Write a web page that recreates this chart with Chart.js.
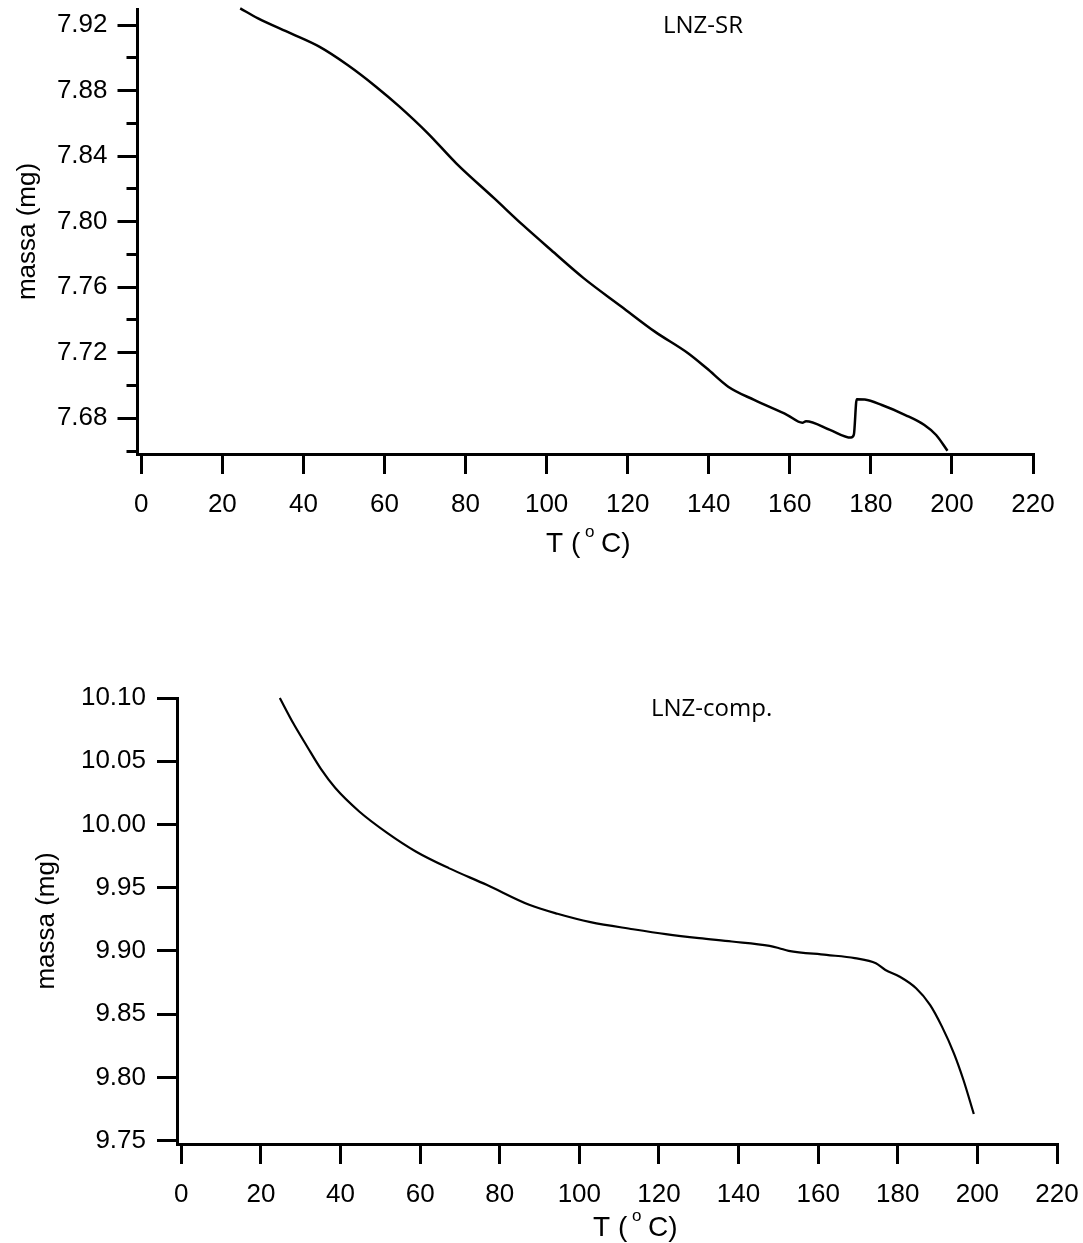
<!DOCTYPE html>
<html><head><meta charset="utf-8">
<script src="https://cdn.jsdelivr.net/npm/chart.js@4"></script>
<style>
html,body{margin:0;padding:0;background:#fff;}
#wrap{position:relative;width:1083px;height:1243px;background:#fff;}
canvas{position:absolute;left:0;}
</style></head><body>
<div id="wrap">
<canvas id="c1" width="1083" height="600" style="top:0px"></canvas>
<canvas id="c2" width="1083" height="643" style="top:600px"></canvas>
</div>
<script>
// ---- data ----
const srTemp = [24.4, 28.8, 36.9, 43.9, 50.9, 57.9, 63.7, 70.7, 77.7, 87.1, 94.1, 101.1, 109.2, 118.5, 126.7, 134.9, 139.5, 144.8, 151.2, 159.4, 163.1, 164.0, 169.9, 175.1, 175.8, 176.5, 178.5, 182.7, 188.5, 193.2, 196.1, 198.9];
const srMass = [7.9302, 7.9241, 7.9149, 7.9068, 7.8956, 7.8824, 7.8702, 7.8539, 7.8356, 7.8142, 7.7980, 7.7827, 7.7654, 7.7481, 7.7329, 7.7197, 7.7105, 7.6993, 7.6912, 7.6820, 7.6773, 7.6782, 7.6729, 7.6682, 7.6700, 7.6916, 7.6914, 7.6881, 7.6820, 7.6759, 7.6698, 7.6602];

const compTemp = [24.75, 28.1, 31.6, 35.2, 38.7, 44.7, 51.8, 58.9, 67.2, 76.7, 87.4, 94.5, 102.8, 113.5, 121.7, 130.1, 138.3, 147.8, 150.2, 152.6, 162.1, 169.2, 174.5, 176.9, 180.4, 184.6, 188.1, 191.1, 194.1, 196.5, 199.1];
const compMass = [10.100, 10.0802, 10.0617, 10.0433, 10.0288, 10.0103, 9.9932, 9.9787, 9.9655, 9.9523, 9.9365, 9.9294, 9.9228, 9.9172, 9.9133, 9.9101, 9.9075, 9.9040, 9.9022, 9.9001, 9.8969, 9.8943, 9.8903, 9.8850, 9.8798, 9.8705, 9.8574, 9.8402, 9.8191, 9.7980, 9.7711];

const xTicks = [0, 20, 40, 60, 80, 100, 120, 140, 160, 180, 200, 220];
const srYTicks = [7.68, 7.72, 7.76, 7.80, 7.84, 7.88, 7.92];
const srYMinor = [7.66, 7.70, 7.74, 7.78, 7.82, 7.86, 7.90];
const compYTicks = [9.75, 9.80, 9.85, 9.90, 9.95, 10.00, 10.05, 10.10];

const srLabel = 'LNZ-SR';
const compLabel = 'LNZ-comp.';
const yTitle = 'massa (mg)';
const xTitleParts = ['T (', 'o', 'C)'];

// ---- drawing helpers ----
const TICK_FONT = {family: '"Liberation Sans", Arial, sans-serif', size: 26};

const extras = {
  id: 'extras',
  afterDraw(chart, args, o) {
    const ctx = chart.ctx, ca = chart.chartArea;
    const xs = chart.scales.x, ys = chart.scales.y;
    ctx.save();
    // minor y ticks
    if (o.minor) {
      ctx.strokeStyle = '#000';
      ctx.lineWidth = 3;
      o.minor.forEach(v => {
        const py = Math.round(ys.getPixelForValue(v) - 1.5) + 1.5;
        ctx.beginPath();
        ctx.moveTo(ca.left - 11, py);
        ctx.lineTo(ca.left - 1.5, py);
        ctx.stroke();
      });
    }
    ctx.fillStyle = '#000';
    ctx.textAlign = 'left';
    ctx.textBaseline = 'alphabetic';
    // annotation label
    ctx.font = '24px "Open Sans", sans-serif';
    ctx.fillText(o.label, xs.getPixelForValue(o.labelX), ys.getPixelForValue(o.labelY));
    // x title with superscript o
    const x0 = o.titleX, by = ca.bottom + o.titleDy;
    ctx.font = '28px "Liberation Sans", Arial, sans-serif';
    ctx.fillText(xTitleParts[0], x0, by);
    ctx.font = '17px "Liberation Sans", Arial, sans-serif';
    ctx.fillText(xTitleParts[1], x0 + 39, by - 15);
    ctx.font = '28px "Liberation Sans", Arial, sans-serif';
    ctx.fillText(xTitleParts[2], x0 + 55, by);
    ctx.restore();
  }
};

function makeChart(id, p) {
  return new Chart(document.getElementById(id), {
    type: 'line',
    data: {
      datasets: [{
        data: p.tx.map((t, i) => ({x: t, y: p.my[i]})),
        borderColor: '#000',
        borderWidth: p.lw,
        pointRadius: 0,
        fill: false,
        cubicInterpolationMode: 'monotone',
        clip: false
      }]
    },
    options: {
      responsive: false,
      animation: false,
      devicePixelRatio: 1,
      events: [],
      layout: {padding: {left: 0, top: p.top, right: p.right, bottom: 0}},
      plugins: {
        legend: {display: false},
        tooltip: {enabled: false},
        extras: p.extras
      },
      scales: {
        x: {
          type: 'linear', position: 'bottom', min: p.xmin, max: 220,
          afterBuildTicks: s => { s.ticks = xTicks.map(v => ({value: v})); },
          afterFit: s => { s.height = p.xh; s.paddingLeft = 0; s.paddingRight = 0; },
          ticks: {autoSkip: false, maxRotation: 0, minRotation: 0, padding: 15, color: '#000', font: TICK_FONT,
                  callback: v => String(v)},
          grid: {display: true, drawOnChartArea: false, drawTicks: true, tickLength: 20, lineWidth: 3, color: '#000'},
          border: {display: true, color: '#000', width: 3}
        },
        y: {
          type: 'linear', position: 'left', min: p.ymin, max: p.ymax,
          afterBuildTicks: s => { s.ticks = p.yticks.map(v => ({value: v})); },
          afterFit: s => { s.width = p.left; s.paddingTop = 0; s.paddingBottom = 0; },
          ticks: {autoSkip: false, padding: p.ypad, color: '#000', font: TICK_FONT,
                  callback: v => Number(v).toFixed(2)},
          grid: {display: true, drawOnChartArea: false, drawTicks: true, tickLength: 20, lineWidth: 3, color: '#000'},
          border: {display: true, color: '#000', width: 3},
          title: {display: true, text: yTitle, color: '#000',
                  font: {family: '"Liberation Sans", Arial, sans-serif', size: 26},
                  padding: {top: p.ytp, bottom: 0}}
        }
      }
    },
    plugins: [extras]
  });
}

makeChart('c1', {
  tx: srTemp, my: srMass, lw: 2.5,
  top: 9, right: 50, left: 137.5, xh: 146,
  xmin: -0.94, ymin: 7.6582, ymax: 7.9298, yticks: srYTicks, ypad: 10, ytp: 12,
  extras: {minor: srYMinor, label: srLabel, labelX: 128.7, labelY: 7.9151, titleX: 546, titleDy: 98}
});

makeChart('c2', {
  tx: compTemp, my: compMass, lw: 2.2,
  top: 98, right: 26, left: 177, xh: 99,
  xmin: -1.08, ymin: 9.7474, ymax: 10.10, yticks: compYTicks, ypad: 11, ytp: 31,
  extras: {minor: null, label: compLabel, labelX: 118.0, labelY: 10.086, titleX: 593, titleDy: 92}
});
</script>
</body></html>
